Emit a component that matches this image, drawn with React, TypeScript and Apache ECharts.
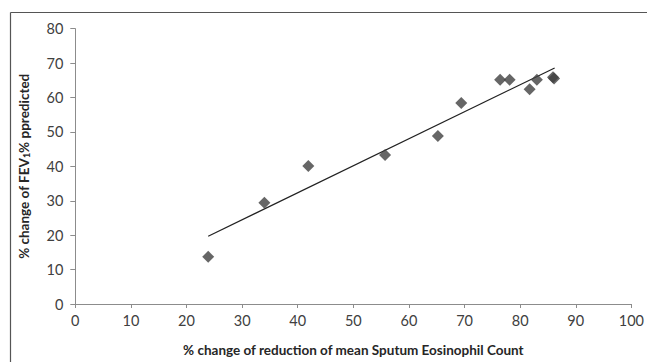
import React, { useEffect, useRef } from "react";
import * as echarts from "echarts";

const eosinophilReduction = [23.9, 34.0, 41.9, 55.7, 65.2, 69.4, 76.4, 78.1, 81.7, 83.0, 85.9, 86.1];
const fevChange = [13.7, 29.4, 40.1, 43.3, 48.8, 58.4, 65.2, 65.2, 62.4, 65.2, 65.9, 65.5];
const trendX = [23.9, 86.2];
const trendY = [19.7, 68.6];
const xTicks = [0, 10, 20, 30, 40, 50, 60, 70, 80, 90, 100];
const yTicks = [0, 10, 20, 30, 40, 50, 60, 70, 80];

export default function App() {
  const ref = useRef<HTMLDivElement>(null);
  useEffect(() => {
    if (!ref.current) return;
    const chart = echarts.init(ref.current, undefined, { renderer: "svg" });
    const font = "Lato";
    chart.setOption({
      animation: false,
      backgroundColor: "#ffffff",
      grid: { left: 75.3, right: 13.7, top: 28.7, bottom: 54.3, containLabel: false },
      graphic: [
        { type: "line", shape: { x1: 10.5, y1: 12.5, x2: 647, y2: 12.5 }, style: { stroke: "#555", lineWidth: 1.2 } },
        { type: "line", shape: { x1: 10.5, y1: 12.5, x2: 10.5, y2: 362 }, style: { stroke: "#555", lineWidth: 1.2 } },
      ],
      xAxis: {
        type: "value",
        min: xTicks[0],
        max: xTicks[xTicks.length - 1],
        interval: 10,
        splitLine: { show: false },
        axisLine: { lineStyle: { color: "#8c8c8c" } },
        axisTick: { show: true, length: 4, lineStyle: { color: "#8c8c8c" } },
        axisLabel: { color: "#404040", fontSize: 14.5, fontFamily: font, margin: 9 },
        name: "% change of reduction of mean Sputum Eosinophil Count",
        nameLocation: "middle",
        nameGap: 39,
        nameTextStyle: { color: "#262626", fontSize: 13.5, fontWeight: "bold", fontFamily: font },
      },
      yAxis: {
        type: "value",
        min: yTicks[0],
        max: yTicks[yTicks.length - 1],
        interval: 10,
        splitLine: { show: false },
        axisLine: { show: true, lineStyle: { color: "#8c8c8c" } },
        axisTick: { show: true, length: 5, lineStyle: { color: "#8c8c8c" } },
        axisLabel: { color: "#404040", fontSize: 14.5, fontFamily: font, margin: 12 },
        name: "{a|% change of FEV}{s|1}{a|% ppredicted}",
        nameLocation: "middle",
        nameGap: 44,
        nameRotate: 90,
        nameTextStyle: {
          color: "#262626",
          fontFamily: font,
          rich: {
            a: { fontSize: 13.5, fontWeight: "bold", fontFamily: font, color: "#262626" },
            s: { fontSize: 9, fontWeight: "bold", fontFamily: font, color: "#262626", verticalAlign: "bottom", padding: [6, 0, 0, 0] },
          },
        },
      },
      series: [
        {
          type: "line",
          data: trendX.map((x, i) => [x, trendY[i]]),
          showSymbol: false,
          symbol: "none",
          lineStyle: { color: "#222", width: 1.2 },
          z: 1,
        },
        {
          type: "scatter",
          data: eosinophilReduction.map((x, i) => [x, fevChange[i]]),
          symbol: "diamond",
          symbolSize: 12,
          itemStyle: { color: "#404040" },
          z: 2,
        },
      ],
    });
    return () => chart.dispose();
  }, []);
  return (
    <div
      ref={ref}
      style={{ position: "absolute", left: 0, top: 0, width: 647, height: 362, background: "#fff" }}
    />
  );
}
